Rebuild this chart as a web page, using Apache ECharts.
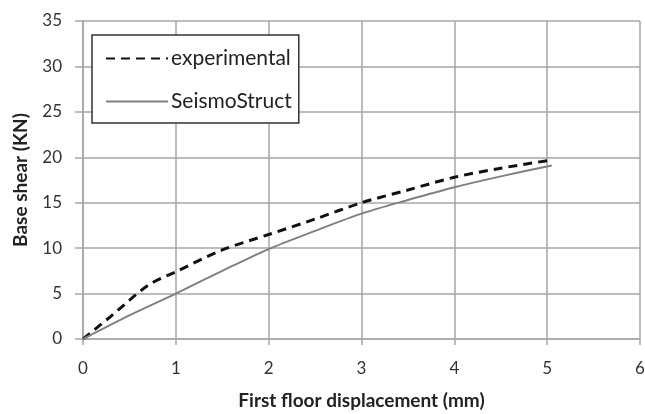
<!DOCTYPE html>
<html>
<head>
<meta charset="utf-8">
<script src="https://cdn.jsdelivr.net/npm/echarts@6/dist/echarts.min.js"></script>
<style>
  html, body { margin: 0; padding: 0; background: #fff; }
  #chart { width: 645px; height: 414px; }
</style>
</head>
<body>
<div id="chart"></div>
<script>
// data: [displacement (mm), base shear (KN)]
const experimental = [
  [0, 0], [0.3, 2.5], [0.7, 5.9], [1.0, 7.4], [1.5, 9.8], [2.0, 11.5],
  [2.5, 13.2], [3.0, 15.0], [3.5, 16.4], [4.0, 17.8], [4.5, 18.8], [5.05, 19.7]
];
const seismoStruct = [
  [0, 0], [0.5, 2.6], [1.0, 5.0], [1.5, 7.5], [2.0, 9.9], [2.5, 11.9],
  [3.0, 13.8], [3.5, 15.3], [4.0, 16.7], [4.5, 17.9], [5.05, 19.1]
];
const seriesNames = ["experimental", "SeismoStruct"];

const FONT = "Lato";
const gridColor = "#a6a6a6";

const chart = echarts.init(document.getElementById("chart"));

chart.setOption({
  animation: false,
  textStyle: { fontFamily: FONT },
  grid: { left: 83, right: 5, top: 21, bottom: 75, outerBoundsMode: "none", containLabel: false },
  legend: {
    orient: "vertical",
    left: 92,
    top: 35,
    padding: [13, 7, 11, 13],
    itemWidth: 62,
    itemHeight: 20,
    itemGap: 22,
    borderColor: "#333",
    borderWidth: 1.5,
    backgroundColor: "#fff",
    itemStyle: { opacity: 0 },
    textStyle: { fontFamily: FONT, fontSize: 21, color: "#222", padding: [0, 0, 0, -2] },
    data: seriesNames
  },
  xAxis: {
    type: "value",
    min: 0,
    max: 6,
    interval: 1,
    name: "First floor displacement (mm)",
    nameLocation: "middle",
    nameGap: 52,
    nameTextStyle: { fontFamily: FONT, fontSize: 19, fontWeight: "bold", color: "#222" },
    axisLine: { show: true, lineStyle: { color: gridColor, width: 1.5 } },
    axisTick: { show: true, length: 6, lineStyle: { color: gridColor, width: 1.5 } },
    axisLabel: { fontFamily: FONT, fontSize: 17, color: "#333", margin: 21 },
    splitLine: { show: true, lineStyle: { color: gridColor, width: 1.5 } }
  },
  yAxis: {
    type: "value",
    min: 0,
    max: 35,
    interval: 5,
    name: "Base shear (KN)",
    nameLocation: "middle",
    nameRotate: 90,
    nameGap: 53,
    nameTextStyle: { fontFamily: FONT, fontSize: 19, fontWeight: "bold", color: "#222" },
    axisLine: { show: true, lineStyle: { color: gridColor, width: 1.5 } },
    axisTick: { show: true, length: 8, lineStyle: { color: gridColor, width: 1.5 } },
    axisLabel: { fontFamily: FONT, fontSize: 17, color: "#333", margin: 21 },
    splitLine: { show: true, lineStyle: { color: gridColor, width: 1.5 } }
  },
  series: [
    {
      name: seriesNames[0],
      type: "line",
      data: experimental,
      symbol: "none",
      smooth: 0.3,
      itemStyle: { color: "#111" },
      lineStyle: { color: "#111", width: 3, type: [9, 6] }
    },
    {
      name: seriesNames[1],
      type: "line",
      data: seismoStruct,
      symbol: "none",
      smooth: 0.3,
      itemStyle: { color: "#808080" },
      lineStyle: { color: "#808080", width: 2 }
    }
  ]
});
</script>
</body>
</html>
